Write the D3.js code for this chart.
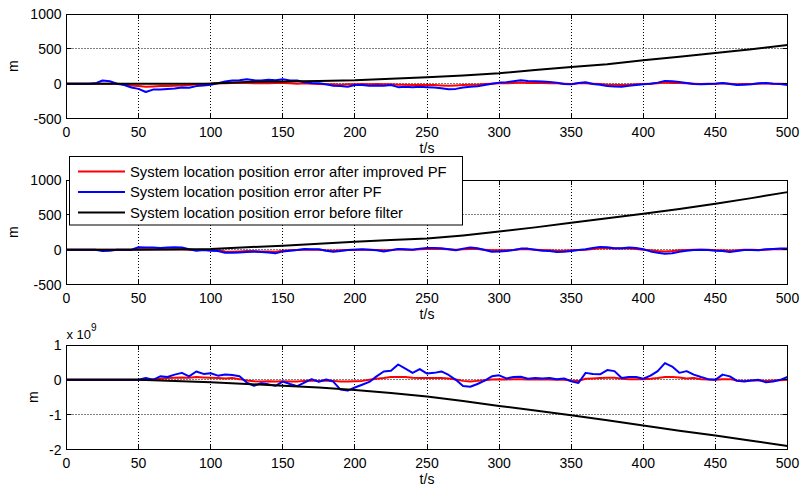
<!DOCTYPE html>
<html>
<head>
<meta charset="utf-8">
<script src="https://cdnjs.cloudflare.com/ajax/libs/d3/7.8.5/d3.min.js"></script>
<style>
  html, body { margin: 0; padding: 0; background: #fff; }
  svg text { font-family: "Liberation Sans", Arial, sans-serif; fill: #000; }
</style>
</head>
<body>
<svg id="chart" width="801" height="491"></svg>
<script>
// Time samples (s)
const tFine = d3.range(0, 501, 5);
const tCoarse = d3.range(0, 501, 25);
const xTicks = [0, 50, 100, 150, 200, 250, 300, 350, 400, 450, 500];

// Panel 1: position error (m)
const p1Red = [0,0,0,0,0,0,0,0,-10,-25, -35,-45,-40,-35,-35,-30,-25,-20,-10,-5,
  0,5,5,10,10,10,5,10,5,10, 10,5,0,5,0,-5,-10,-10,-15,-10,
  -10,-5,-10,-5,-10,-10,-15,-15,-20,-15, -20,-20,-25,-30,-25,-20,-15,-15,-5,0,
  5,5,10,15,10,10,10,5,5,0, -5,5,5,0,-5,-15,-15,-20,-15,-10,
  -5,0,5,15,10,10,5,0,-5,0, 0,5,0,-10,-5,-5,0,5,0,0, -5];
const p1Blue = [0,0,0,0,5,45,35,0,-20,-55, -75,-120,-85,-85,-75,-70,-55,-60,-35,-25,
  -15,5,30,45,50,65,50,45,55,50, 65,45,45,20,10,5,-10,-30,-35,-45,
  -20,-20,-30,-25,-30,-20,-50,-45,-50,-45, -50,-55,-65,-80,-75,-55,-45,-38,-20,0,
  15,20,35,48,40,35,30,25,15,-5, -10,10,20,-5,-15,-35,-40,-45,-30,-20,
  -10,0,15,40,35,25,10,-5,-10,-5, 0,10,-5,-20,-15,-10,5,10,0,-5, -20];
const p1Black = [0,0,0,0,2,25,30,40,50,72,92,118,150,195,240,280,335,385,440,495,555];

// Panel 2: position error (m)
const p2Red = [0,0,0,0,0,0,0,0,0,0, 5,5,5,5,5,5,5,0,-5,0,
  -5,-10,-25,-30,-25,-20,-20,-25,-25,-30, -15,-10,-5,0,0,0,-10,-15,-10,-5,
  0,0,0,-5,-10,-5,5,0,0,5, 10,10,10,5,0,5,10,10,0,-10,
  -10,-10,-5,5,5,0,-5,-10,-15,-15, -10,-5,0,10,20,20,15,15,15,10,
  0,-10,-20,-25,-20,-10,-5,0,0,0, -10,-10,-15,-10,0,0,-5,0,5,5, 5];
const p2Blue = [0,0,0,0,0,-20,-15,0,0,0, 35,30,30,25,30,35,30,5,-15,-5,
  -15,-20,-45,-45,-40,-35,-30,-35,-40,-53, -25,-15,-5,10,5,5,-15,-30,-20,-5,
  0,5,0,-10,-25,-10,10,5,0,15, 25,25,20,5,-10,15,30,20,-5,-30,
  -25,-20,-5,15,15,0,-15,-20,-35,-30, -20,-5,5,25,40,35,20,20,30,25,
  5,-25,-45,-58,-50,-30,-15,-5,0,-5, -15,-20,-35,-20,-5,-5,-10,5,10,15, 15];
const p2Black = [0,0,0,3,10,35,55,85,115,138,160,205,260,320,385,450,515,585,658,740,826];

// Panel 3: position error (x 10^9 m)
const p3Red = [0,0,0,0,0,0,0,0,0,0, 0,0,0.02,0.03,0.05,0.06,0.07,0.06,0.08,0.07,
  0.06,0.05,0.04,0.05,0.02,-0.02,-0.04,-0.05,-0.04,-0.05, -0.04,-0.05,-0.05,-0.03,-0.02,-0.03,-0.02,-0.03,-0.05,-0.05,
  -0.04,-0.03,0,0.03,0.05,0.08,0.08,0.08,0.06,0.05, 0.05,0.05,0.05,0.04,0.01,-0.03,-0.05,-0.03,-0.01,0.01,
  0.02,0.01,0.02,0.02,0.01,0.01,0.01,0.01,0,0, -0.02,-0.03,0.03,0.04,0.05,0.06,0.06,0.03,0.02,0.02,
  0.02,0.03,0.05,0.08,0.08,0.07,0.04,0.05,0.02,0.01, 0,0.02,0.02,-0.02,-0.03,-0.02,-0.02,-0.03,-0.02,-0.01, 0];
const p3Blue = [0,0,0,0,0,0,0,0,0,0, 0,0.05,0,0.1,0.08,0.15,0.2,0.1,0.24,0.17,
  0.19,0.12,0.15,0.14,0.1,-0.08,-0.17,-0.1,-0.13,-0.17, -0.05,-0.12,-0.18,-0.08,0.02,-0.06,0.01,-0.05,-0.28,-0.31,
  -0.22,-0.14,-0.06,0.1,0.24,0.26,0.44,0.32,0.2,0.31, 0.18,0.2,0.24,0.14,0,-0.18,-0.2,-0.12,-0.02,0.1,
  0.13,0.04,0.08,0.09,0.03,0.05,0.04,0.05,0.02,0.04, -0.04,-0.09,0.2,0.17,0.16,0.28,0.25,0.05,0.08,0.08,
  0.03,0.12,0.25,0.48,0.38,0.2,0.25,0.15,0.08,0.02, 0,0.15,0.1,-0.03,-0.05,-0.02,0,-0.07,-0.05,0, 0.08];
const p3Black = [0,0,0,-0.03,-0.07,-0.12,-0.17,-0.22,-0.29,-0.38,-0.48,-0.61,-0.75,-0.88,-1.02,-1.16,-1.31,-1.46,-1.6,-1.75,-1.9];

const seriesNames = [
  "System location position error after improved PF",
  "System location position error after PF",
  "System location position error before filter"
];
const seriesColors = ["#ff0000", "#0000ff", "#000000"];

const panels = [
  { top: 14, bottom: 118.5, yDomain: [-500, 1000], yTicks: [-500, 0, 500, 1000],
    red: p1Red, blue: p1Blue, black: p1Black, yLabelX: 13, tickY: 136.5, titleY: 153 },
  { top: 180, bottom: 284.5, yDomain: [-500, 1000], yTicks: [-500, 0, 500, 1000],
    red: p2Red, blue: p2Blue, black: p2Black, yLabelX: 13, tickY: 302.5, titleY: 319 },
  { top: 345, bottom: 449.5, yDomain: [-2, 1], yTicks: [-2, -1, 0, 1],
    red: p3Red, blue: p3Blue, black: p3Black, yLabelX: 33, tickY: 467.5, titleY: 484,
    exponent: "9" }
];

const svg = d3.select("#chart");
const left = 66.5, right = 787.5;
const x = d3.scaleLinear().domain([0, 500]).range([left, right]);
const crisp = v => Math.round(v - 0.5) + 0.5;
const tickLen = 5;
const fontSize = 14;

panels.forEach(p => {
  const y = d3.scaleLinear().domain(p.yDomain).range([p.bottom, p.top]);
  const g = svg.append("g");

  // dotted grid
  g.selectAll("line.vgrid").data(xTicks.slice(1, -1)).join("line")
    .attr("x1", d => crisp(x(d))).attr("x2", d => crisp(x(d)))
    .attr("y1", p.top).attr("y2", p.bottom)
    .attr("stroke", "#000").attr("stroke-width", 1).attr("stroke-dasharray", "1,2");
  g.selectAll("line.hgrid").data(p.yTicks.slice(1, -1)).join("line")
    .attr("x1", left).attr("x2", right)
    .attr("y1", d => crisp(y(d))).attr("y2", d => crisp(y(d)))
    .attr("stroke", "#000").attr("stroke-width", 1).attr("stroke-dasharray", "1,2");

  // data lines
  const lineFine = d3.line().x((d, i) => x(tFine[i])).y(d => y(d));
  const lineCoarse = d3.line().x((d, i) => x(tCoarse[i])).y(d => y(d));
  const clipId = "clip" + p.top;
  svg.append("clipPath").attr("id", clipId).append("rect")
    .attr("x", left).attr("y", p.top).attr("width", right - left).attr("height", p.bottom - p.top);
  const lines = g.append("g").attr("clip-path", `url(#${clipId})`);
  lines.append("path").attr("d", lineFine(p.red)).attr("fill", "none")
    .attr("stroke", seriesColors[0]).attr("stroke-width", 2).attr("stroke-linejoin", "round");
  lines.append("path").attr("d", lineFine(p.blue)).attr("fill", "none")
    .attr("stroke", seriesColors[1]).attr("stroke-width", 2).attr("stroke-linejoin", "round");
  lines.append("path").attr("d", lineCoarse(p.black)).attr("fill", "none")
    .attr("stroke", seriesColors[2]).attr("stroke-width", 2).attr("stroke-linejoin", "round");

  // box
  g.append("rect").attr("x", left).attr("y", crisp(p.top))
    .attr("width", right - left).attr("height", crisp(p.bottom) - crisp(p.top))
    .attr("fill", "none").attr("stroke", "#000").attr("stroke-width", 1);

  // tick marks (inward, mirrored on all sides)
  xTicks.forEach(t => {
    const xx = crisp(x(t));
    g.append("line").attr("x1", xx).attr("x2", xx).attr("y1", p.bottom).attr("y2", p.bottom - tickLen).attr("stroke", "#000");
    g.append("line").attr("x1", xx).attr("x2", xx).attr("y1", p.top).attr("y2", p.top + tickLen).attr("stroke", "#000");
  });
  p.yTicks.forEach(v => {
    const yy = crisp(y(v));
    g.append("line").attr("x1", left).attr("x2", left + tickLen).attr("y1", yy).attr("y2", yy).attr("stroke", "#000");
    g.append("line").attr("x1", right).attr("x2", right - tickLen).attr("y1", yy).attr("y2", yy).attr("stroke", "#000");
  });

  // tick labels
  g.selectAll("text.xt").data(xTicks).join("text")
    .attr("x", d => x(d)).attr("y", p.tickY)
    .attr("text-anchor", "middle").attr("font-size", fontSize).text(d => d);
  g.selectAll("text.yt").data(p.yTicks).join("text")
    .attr("x", left - 5).attr("y", d => y(d) + 5)
    .attr("text-anchor", "end").attr("font-size", fontSize).text(d => d);

  // axis titles
  g.append("text").attr("x", x(250)).attr("y", p.titleY)
    .attr("text-anchor", "middle").attr("font-size", fontSize).text("t/s");
  g.append("text")
    .attr("transform", `translate(${p.yLabelX + 5},${(p.top + p.bottom) / 2}) rotate(-90)`)
    .attr("text-anchor", "middle").attr("font-size", fontSize).text("m");

  if (p.exponent) {
    const ex = g.append("text").attr("x", left).attr("y", p.top - 6).attr("font-size", 13);
    ex.append("tspan").text("x 10");
    ex.append("tspan").attr("dy", -8).attr("font-size", 10).text(p.exponent);
  }
});

// legend
const legend = svg.append("g");
legend.append("rect").attr("x", 69.5).attr("y", 156.5).attr("width", 393).attr("height", 68.5)
  .attr("fill", "#fff").attr("stroke", "#000").attr("stroke-width", 1);
seriesNames.forEach((name, i) => {
  const yy = 171.5 + i * 20.5;
  legend.append("line").attr("x1", 78).attr("x2", 125).attr("y1", yy).attr("y2", yy)
    .attr("stroke", seriesColors[i]).attr("stroke-width", 2);
  legend.append("text").attr("x", 130).attr("y", yy + 5)
    .attr("font-size", 14.8).text(name);
});
</script>
</body>
</html>
